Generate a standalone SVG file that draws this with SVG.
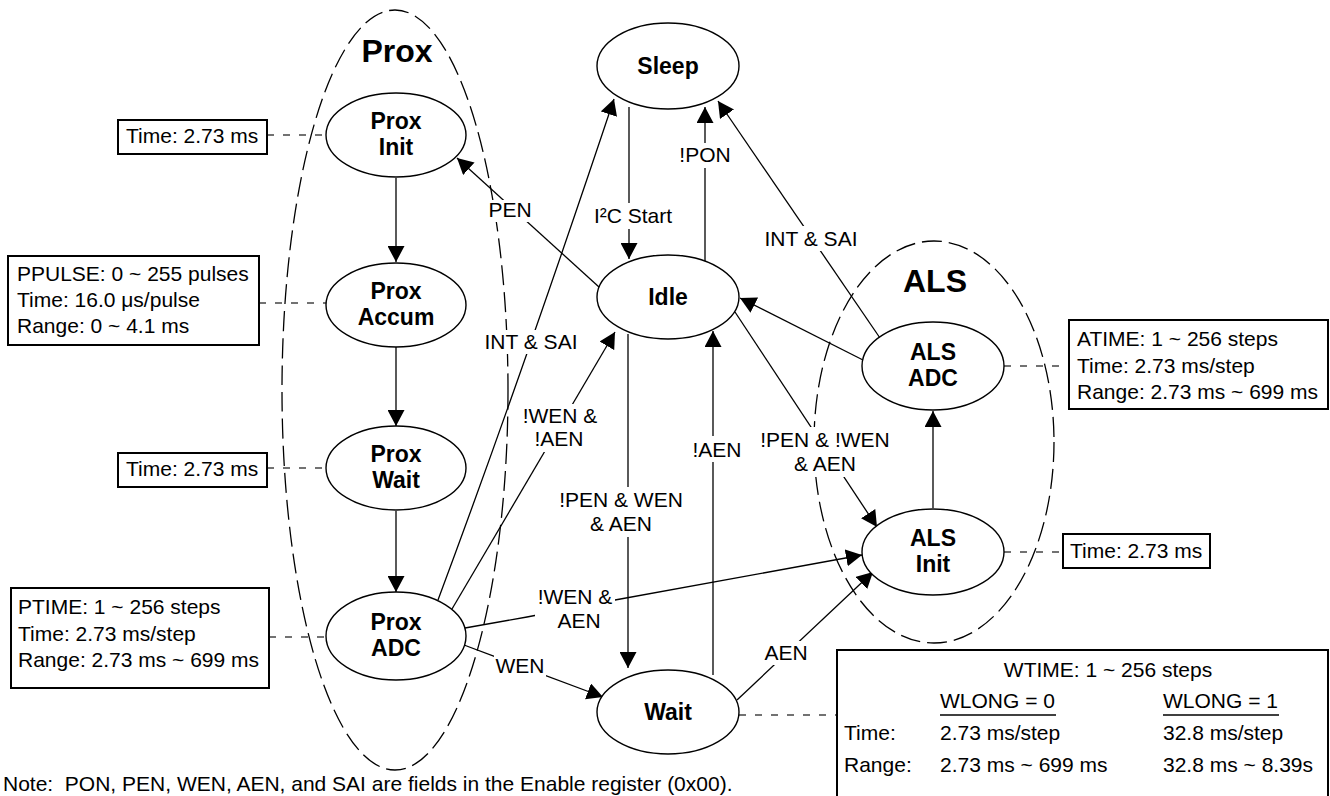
<svg xmlns="http://www.w3.org/2000/svg" width="1330" height="796" viewBox="0 0 1330 796">
<style>
text{font-family:"Liberation Sans",Arial,Helvetica,sans-serif;fill:#000}
.t{font-size:21px}
.c{text-anchor:middle}
.nl{font-size:23px;font-weight:bold;text-anchor:middle}
.ti{font-size:32px;font-weight:bold;text-anchor:middle}
.node{fill:#fff;stroke:#000;stroke-width:1.4}
.grp{fill:none;stroke:#000;stroke-width:1.3;stroke-dasharray:20 7}
.box{fill:#fff;stroke:#000;stroke-width:2}
.dl{stroke:#444;stroke-width:1.3;stroke-dasharray:7 9;fill:none}
.e{stroke:#000;stroke-width:1.3;fill:none;marker-end:url(#ah)}
.ln{stroke:#000;stroke-width:1.3;fill:none}
.lb{fill:#fff;stroke:none}
</style>
<defs>
<marker id="ah" markerUnits="userSpaceOnUse" markerWidth="16" markerHeight="17" viewBox="0 0 16 17" refX="16" refY="8.5" orient="auto"><path d="M0,0 L16,8.5 L0,17 z" fill="#000"/></marker>
</defs>
<rect width="1330" height="796" fill="#fff"/>

<g id="group-prox">
<ellipse class="grp" cx="395" cy="390" rx="113" ry="380"/>
<text class="ti" x="397" y="62">Prox</text>
</g>
<g id="group-als">
<ellipse class="grp" cx="934" cy="442" rx="120" ry="201"/>
<text class="ti" x="935" y="292">ALS</text>
</g>

<g id="annotation-links">
<line class="dl" x1="267" y1="135" x2="326" y2="135"/>
<line class="dl" x1="259" y1="303" x2="326" y2="303"/>
<line class="dl" x1="267" y1="468" x2="326" y2="468"/>
<line class="dl" x1="269" y1="637" x2="326" y2="637"/>
<line class="dl" x1="1004" y1="366" x2="1069" y2="366"/>
<line class="dl" x1="1004" y1="552" x2="1063" y2="552"/>
<line class="dl" x1="739" y1="715" x2="837" y2="715"/>
</g>

<g id="connectors">
<line class="e" x1="396" y1="178" x2="396" y2="262"/>
<line class="e" x1="396" y1="347" x2="396" y2="426"/>
<line class="e" x1="396" y1="511" x2="396" y2="592"/>
<line class="e" x1="629" y1="107" x2="629" y2="259"/>
<line class="e" x1="705" y1="262" x2="705" y2="107"/>
<line class="e" x1="880" y1="338" x2="718" y2="101"/>
<line class="e" x1="863" y1="360" x2="740" y2="298"/>
<line class="e" x1="735" y1="312" x2="877" y2="527"/>
<line class="e" x1="933" y1="508" x2="933" y2="411"/>
<path class="e" d="M438,600 Q520,380 614,99"/>
<line class="e" x1="452" y1="609" x2="615" y2="332"/>
<line class="e" x1="599" y1="287" x2="457" y2="158"/>
<path class="e" d="M465,628 L527,617 L615,600 L862,555"/>
<line class="e" x1="464" y1="645" x2="603" y2="697"/>
<line class="e" x1="628" y1="334" x2="628" y2="668"/>
<line class="e" x1="713" y1="675" x2="713" y2="331"/>
<line class="e" x1="737" y1="700" x2="873" y2="572"/>
</g>

<g id="edge-labels">
<rect class="lb" x="486" y="200" width="48" height="22"/>
<text class="t c" x="510" y="217">PEN</text>
<rect class="lb" x="592" y="203" width="82" height="26"/>
<text class="t c" x="633" y="223">I²C Start</text>
<rect class="lb" x="678" y="143" width="54" height="25"/>
<text class="t c" x="705" y="162">!PON</text>
<rect class="lb" x="763" y="226" width="97" height="25"/>
<text class="t c" x="811" y="246">INT &amp; SAI</text>
<rect class="lb" x="483" y="330" width="97" height="24"/>
<text class="t c" x="531" y="349">INT &amp; SAI</text>
<rect class="lb" x="521" y="404" width="79" height="48"/>
<text class="t c" x="560" y="423">!WEN &amp;</text>
<text class="t c" x="559" y="446">!AEN</text>
<rect class="lb" x="558" y="487" width="127" height="50"/>
<text class="t c" x="621" y="507">!PEN &amp; WEN</text>
<text class="t c" x="621" y="531">&amp; AEN</text>
<rect class="lb" x="691" y="436" width="53" height="26"/>
<text class="t c" x="717" y="457">!AEN</text>
<rect class="lb" x="759" y="427" width="133" height="50"/>
<text class="t c" x="825" y="447">!PEN &amp; !WEN</text>
<text class="t c" x="825" y="471">&amp; AEN</text>
<rect class="lb" x="535" y="585" width="80" height="48"/>
<text class="t c" x="575" y="604">!WEN &amp;</text>
<text class="t c" x="579" y="628">AEN</text>
<rect class="lb" x="494" y="654" width="52" height="24"/>
<text class="t c" x="520" y="673">WEN</text>
<rect class="lb" x="763" y="641" width="46" height="24"/>
<text class="t c" x="786" y="660">AEN</text>
</g>

<g id="node-sleep"><ellipse class="node" cx="668" cy="66" rx="71" ry="43"/><text class="nl" x="668" y="74">Sleep</text></g>
<g id="node-idle"><ellipse class="node" cx="668" cy="297" rx="71" ry="42"/><text class="nl" x="668" y="305">Idle</text></g>
<g id="node-wait"><ellipse class="node" cx="668" cy="712" rx="71" ry="42"/><text class="nl" x="668" y="720">Wait</text></g>
<g id="node-prox-init"><ellipse class="node" cx="396" cy="135" rx="70" ry="42"/><text class="nl" x="396" y="129">Prox</text><text class="nl" x="396" y="155">Init</text></g>
<g id="node-prox-accum"><ellipse class="node" cx="396" cy="305" rx="70" ry="42"/><text class="nl" x="396" y="299">Prox</text><text class="nl" x="396" y="325">Accum</text></g>
<g id="node-prox-wait"><ellipse class="node" cx="396" cy="468" rx="70" ry="42"/><text class="nl" x="396" y="462">Prox</text><text class="nl" x="396" y="488">Wait</text></g>
<g id="node-prox-adc"><ellipse class="node" cx="396" cy="636" rx="70" ry="44"/><text class="nl" x="396" y="630">Prox</text><text class="nl" x="396" y="656">ADC</text></g>
<g id="node-als-adc"><ellipse class="node" cx="933" cy="366" rx="71" ry="44"/><text class="nl" x="933" y="360">ALS</text><text class="nl" x="933" y="386">ADC</text></g>
<g id="node-als-init"><ellipse class="node" cx="933" cy="552" rx="71" ry="43"/><text class="nl" x="933" y="546">ALS</text><text class="nl" x="933" y="572">Init</text></g>

<g id="box-prox-init-time"><rect class="box" x="118" y="120" width="149" height="34"/><text class="t" x="126" y="143">Time: 2.73 ms</text></g>
<g id="box-ppulse"><rect class="box" x="8" y="256" width="251" height="89"/>
<text class="t" x="17" y="281">PPULSE: 0 ~ 255 pulses</text>
<text class="t" x="17" y="307">Time: 16.0 μs/pulse</text>
<text class="t" x="17" y="333">Range: 0 ~ 4.1 ms</text></g>
<g id="box-prox-wait-time"><rect class="box" x="118" y="453" width="149" height="34"/><text class="t" x="126" y="476">Time: 2.73 ms</text></g>
<g id="box-ptime"><rect class="box" x="11" y="588" width="258" height="100"/>
<text class="t" x="18" y="614">PTIME: 1 ~ 256 steps</text>
<text class="t" x="18" y="641">Time: 2.73 ms/step</text>
<text class="t" x="18" y="667">Range: 2.73 ms ~ 699 ms</text></g>
<g id="box-atime"><rect class="box" x="1069" y="320" width="259" height="89"/>
<text class="t" x="1077" y="346">ATIME: 1 ~ 256 steps</text>
<text class="t" x="1077" y="373">Time: 2.73 ms/step</text>
<text class="t" x="1077" y="399">Range: 2.73 ms ~ 699 ms</text></g>
<g id="box-als-init-time"><rect class="box" x="1063" y="534" width="147" height="34"/><text class="t" x="1070" y="558">Time: 2.73 ms</text></g>
<g id="box-wtime"><rect class="box" x="837" y="650" width="491" height="152"/>
<text class="t c" x="1108" y="677">WTIME: 1 ~ 256 steps</text>
<text class="t" x="940" y="708">WLONG = 0</text>
<line class="ln" x1="940" y1="715" x2="1056" y2="715"/>
<text class="t" x="1163" y="708">WLONG = 1</text>
<line class="ln" x1="1163" y1="715" x2="1279" y2="715"/>
<text class="t" x="844" y="740">Time:</text>
<text class="t" x="940" y="740">2.73 ms/step</text>
<text class="t" x="1163" y="740">32.8 ms/step</text>
<text class="t" x="844" y="772">Range:</text>
<text class="t" x="940" y="772">2.73 ms ~ 699 ms</text>
<text class="t" x="1163" y="772">32.8 ms ~ 8.39s</text></g>

<text class="t" x="3" y="791" xml:space="preserve">Note:  PON, PEN, WEN, AEN, and SAI are fields in the Enable register (0x00).</text>
</svg>
